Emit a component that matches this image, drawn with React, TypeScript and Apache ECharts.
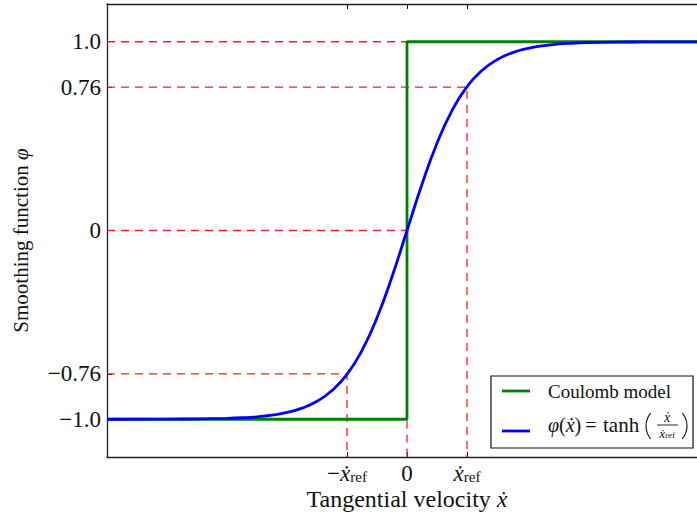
import React, { useEffect, useRef } from "react";
import * as echarts from "echarts";

// Axis extents (velocity in units of x_ref)
const xMin = -5;
const xMax = 5;
const yMin = -1.2;
const yMax = 1.2;

// Tick positions and their labels
const yTicks = [-1.0, -0.76, 0, 0.76, 1.0];
const yTickLabels = ["\u22121.0", "\u22120.76", "0", "0.76", "1.0"];
const xTicks = [-1, 0, 1];
const xTickLabels = ["\u2212{v|\u1E8B}{sub|ref}", "0", "{v|\u1E8B}{sub|ref}"];

// Coulomb (sign) friction model
const coulombX = [-5, 0, 0, 5];
const coulombY = [-1, -1, 1, 1];

// Smoothed model phi(v)
const phiX = [
  -5, -4, -3.5, -3, -2.75, -2.5, -2.25, -2, -1.75, -1.5, -1.25, -1, -0.75, -0.5, -0.25,
  0, 0.25, 0.5, 0.75, 1, 1.25, 1.5, 1.75, 2, 2.25, 2.5, 2.75, 3, 3.5, 4, 5,
];
const phiY = [
  -1.0, -0.999, -0.998, -0.995, -0.992, -0.987, -0.978, -0.964, -0.941, -0.905, -0.848, -0.762, -0.635, -0.462, -0.245,
  0, 0.245, 0.462, 0.635, 0.762, 0.848, 0.905, 0.941, 0.964, 0.978, 0.987, 0.992, 0.995, 0.998, 0.999, 1.0,
];

// Reference guides: level, velocity where it is reached, whether to drop to the axis
const guideY = [1.0, 0.76, 0, -0.76];
const guideX = [0, 1, 0, -1];
const guideDrop = [false, true, true, true];

const FONT = "'Liberation Serif', 'DejaVu Serif', serif";
const INK = "#111";

function pick(ticks: number[], labels: string[], v: number): string {
  const i = ticks.findIndex((t) => Math.abs(t - v) < 1e-9);
  return i >= 0 ? labels[i] : "";
}

export default function App() {
  const ref = useRef<HTMLDivElement>(null);

  useEffect(() => {
    if (!ref.current) return;
    const chart = echarts.init(ref.current, null, { renderer: "svg" });

    const guideSeries = guideY.map((gy, i) => {
      const pts: number[][] = [
        [xMin, gy],
        [guideX[i], gy],
      ];
      if (guideDrop[i]) pts.push([guideX[i], yMin]);
      return {
        type: "line",
        data: pts,
        symbol: "none",
        silent: true,
        z: 1,
        lineStyle: { color: "#ff1a1a", width: 1.3, type: [8, 6] },
      };
    });

    const axisLineStyle = { color: "#222", width: 1.3 };
    const parenStyle = { stroke: INK, lineWidth: 1.1, fill: "none" };

    chart.setOption({
      animation: false,
      backgroundColor: "#fff",
      grid: { left: 107, top: 4, width: 600, height: 453, outerBoundsMode: "none", containLabel: false },
      xAxis: [
        {
          type: "value",
          min: xMin,
          max: xMax,
          position: "bottom",
          splitLine: { show: false },
          axisLine: { onZero: false, lineStyle: axisLineStyle },
          axisTick: { inside: true, length: 5, customValues: xTicks, lineStyle: { color: INK, width: 1 } },
          axisLabel: {
            customValues: xTicks,
            margin: 4,
            color: INK,
            fontFamily: FONT,
            fontSize: 23,
            lineHeight: 24,
            formatter: (v: number) => pick(xTicks, xTickLabels, v),
            rich: {
              v: { fontFamily: FONT, fontSize: 23, fontStyle: "italic", color: INK, lineHeight: 24 },
              sub: { fontFamily: FONT, fontSize: 15, color: INK, lineHeight: 16, padding: [8, 0, 0, 0] },
            },
          },
          name: "Tangential velocity {i|\u1E8B}",
          nameLocation: "middle",
          nameGap: 30,
          nameMoveOverlap: false,
          nameTextStyle: {
            fontFamily: FONT,
            fontSize: 24,
            color: INK,
            rich: { i: { fontFamily: FONT, fontSize: 24, fontStyle: "italic", color: INK } },
          },
        },
        {
          type: "value",
          min: xMin,
          max: xMax,
          position: "top",
          splitLine: { show: false },
          axisLine: { onZero: false, lineStyle: axisLineStyle },
          axisTick: { inside: true, length: 5, customValues: xTicks, lineStyle: { color: INK, width: 1 } },
          axisLabel: { show: false },
        },
      ],
      yAxis: {
        type: "value",
        min: yMin,
        max: yMax,
        splitLine: { show: false },
        axisLine: { onZero: false, lineStyle: axisLineStyle },
        axisTick: { inside: true, length: 5, customValues: yTicks, lineStyle: { color: INK, width: 1 } },
        axisLabel: {
          customValues: yTicks,
          margin: 6,
          color: INK,
          fontFamily: FONT,
          fontSize: 23,
          formatter: (v: number) => pick(yTicks, yTickLabels, v),
        },
        name: "Smoothing function {i|\u03C6}",
        nameLocation: "middle",
        nameRotate: 90,
        nameGap: 76,
        nameMoveOverlap: false,
        nameTextStyle: {
          fontFamily: FONT,
          fontSize: 21,
          color: INK,
          padding: [0, 20, 0, 0],
          rich: { i: { fontFamily: FONT, fontSize: 21, fontStyle: "italic", color: INK } },
        },
      },
      series: [
        ...guideSeries,
        {
          name: "Coulomb model",
          type: "line",
          data: coulombX.map((x, i) => [x, coulombY[i]]),
          symbol: "none",
          z: 3,
          lineStyle: { color: "#008000", width: 2.8 },
        },
        {
          name: "phi",
          type: "line",
          data: phiX.map((x, i) => [x, phiY[i]]),
          symbol: "none",
          smooth: 0.5,
          z: 4,
          lineStyle: { color: "#0000ff", width: 2.8 },
        },
      ],
      graphic: [
        {
          type: "group",
          z: 10,
          children: [
            {
              type: "rect",
              shape: { x: 491, y: 376, width: 202, height: 72 },
              style: { fill: "#fff", stroke: INK, lineWidth: 1.2 },
            },
            {
              type: "line",
              shape: { x1: 502, y1: 391, x2: 530, y2: 391 },
              style: { stroke: "#008000", lineWidth: 2.8 },
            },
            {
              type: "text",
              x: 548,
              y: 391,
              style: { text: "Coulomb model", font: `19px ${FONT}`, fill: INK, verticalAlign: "middle" },
            },
            {
              type: "line",
              shape: { x1: 502, y1: 431, x2: 530, y2: 431 },
              style: { stroke: "#0000ff", lineWidth: 2.8 },
            },
            {
              type: "text",
              x: 548,
              y: 425,
              style: {
                text: "{i|\u03C6}({i|\u1E8B})",
                font: `20px ${FONT}`,
                fill: INK,
                verticalAlign: "middle",
                rich: { i: { fontFamily: FONT, fontSize: 20, fontStyle: "italic", fill: INK } },
              },
            },
            {
              type: "text",
              x: 591,
              y: 425,
              style: { text: "=", font: `20px ${FONT}`, fill: INK, align: "center", verticalAlign: "middle" },
            },
            {
              type: "text",
              x: 603,
              y: 425,
              style: { text: "tanh", font: `21px ${FONT}`, fill: INK, verticalAlign: "middle" },
            },
            {
              type: "arc",
              shape: { cx: 666, cy: 426, r: 20, startAngle: Math.PI - 0.7, endAngle: Math.PI + 0.7 },
              style: parenStyle,
            },
            {
              type: "text",
              x: 667,
              y: 417,
              style: {
                text: "\u1E8B",
                font: `italic 14px ${FONT}`,
                fill: INK,
                align: "center",
                verticalAlign: "middle",
              },
            },
            {
              type: "line",
              shape: { x1: 657, y1: 425, x2: 678, y2: 425 },
              style: { stroke: INK, lineWidth: 0.9 },
            },
            {
              type: "text",
              x: 667,
              y: 433,
              style: {
                text: "{i|\u1E8B}{s|ref}",
                fill: INK,
                align: "center",
                verticalAlign: "middle",
                rich: {
                  i: { fontFamily: FONT, fontSize: 13, fontStyle: "italic", fill: INK },
                  s: { fontFamily: FONT, fontSize: 9, fill: INK, padding: [4, 0, 0, 0] },
                },
              },
            },
            {
              type: "arc",
              shape: { cx: 667, cy: 426, r: 20, startAngle: -0.7, endAngle: 0.7 },
              style: parenStyle,
            },
          ],
        },
      ],
    });

    return () => chart.dispose();
  }, []);

  return (
    <div
      ref={ref}
      style={{ position: "absolute", left: 0, top: 0, width: 697, height: 515, background: "#fff" }}
    />
  );
}
